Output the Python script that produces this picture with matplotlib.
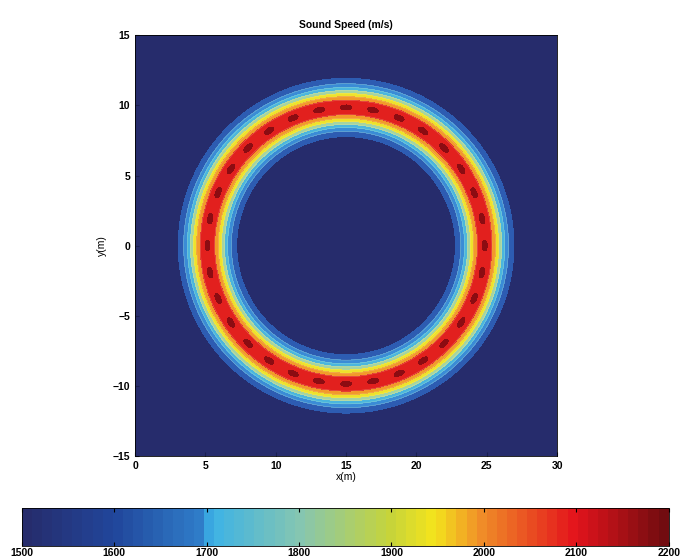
import numpy as np
import matplotlib
matplotlib.use("Agg")
import matplotlib.pyplot as plt
from matplotlib.colors import LinearSegmentedColormap, Normalize
from matplotlib.colorbar import ColorbarBase

plt.rcParams["font.family"] = ["Liberation Sans", "DejaVu Sans"]
plt.rcParams["font.weight"] = "bold"

# ring of fast material in slow water
center_x = 15.0
center_y = 0.0
ring_radius = 9.85
ring_sigma = 1.0
c_water = 1500.0
c_peak = 2150.0
ripple_amp = 30.0
ripple_count = 32

levels = [1400, 1575, 1655, 1735, 1815, 1900, 1985, 2070, 2160, 2300]
band_colors = ["#262c6c", "#2d5cb2", "#3a8cd6", "#4ab6de", "#a6d4a0",
               "#eee22a", "#f29a2a", "#e2201e", "#8c0c12"]
cbar_ticks = [1500, 1600, 1700, 1800, 1900, 2000, 2100, 2200]
x_ticks = [0, 5, 10, 15, 20, 25, 30]
y_ticks = [-15, -10, -5, 0, 5, 10, 15]

# muted jet, as printed
cmap_stops = [
    (0.00, "#262c6c"),
    (0.14, "#21479c"),
    (0.27, "#2f7cc8"),
    (0.29, "#3cb2e6"),
    (0.43, "#86c6b0"),
    (0.57, "#c6d43a"),
    (0.64, "#f4e41c"),
    (0.71, "#f09028"),
    (0.86, "#e4141c"),
    (1.00, "#720c10"),
]
cmap = LinearSegmentedColormap.from_list("muted_jet", cmap_stops, N=64)

x = np.linspace(0, 30, 801)
y = np.linspace(-15, 15, 801)
X, Y = np.meshgrid(x, y)
R = np.hypot(X - center_x, Y - center_y)
T = np.arctan2(Y - center_y, X - center_x)
bump = np.exp(-((R - ring_radius) ** 2) / (2 * ring_sigma ** 2))
core = np.exp(-((R - ring_radius) ** 2) / (2 * 0.2 ** 2))
C = c_water + (c_peak - c_water) * bump + ripple_amp * core * np.cos(ripple_count * T)

fig = plt.figure(figsize=(6.83, 5.59), dpi=100)
ax = fig.add_axes([0.1977, 0.184, 0.618, 0.753])
norm = Normalize(vmin=1500, vmax=2200)
ax.contourf(X, Y, C, levels=levels, colors=band_colors)
ax.contour(X, Y, C, levels=levels[2:-2], colors="#f0f0c0", linewidths=0.35, alpha=0.4)
ax.set_xlim(0, 30)
ax.set_ylim(-15, 15)
ax.set_xticks(x_ticks)
ax.set_yticks(y_ticks)
ax.tick_params(direction="in", labelsize=7.5, length=3, color="#1a1f50")
ax.set_xlabel("x(m)", fontsize=7.5, labelpad=1)
ax.set_ylabel("y(m)", fontsize=7.5, labelpad=4)
ax.set_title("Sound Speed (m/s)", fontsize=7.5, fontweight="bold", pad=5)
for s in ax.spines.values():
    s.set_linewidth(0.6)

cax = fig.add_axes([0.032, 0.023, 0.947, 0.068])
cb = ColorbarBase(cax, cmap=cmap, norm=norm, orientation="horizontal", ticks=cbar_ticks)
cb.outline.set_linewidth(0.6)
cax.tick_params(direction="in", labelsize=7.5, length=3, pad=1, top=True)

fig.savefig("out.png", dpi=100)
